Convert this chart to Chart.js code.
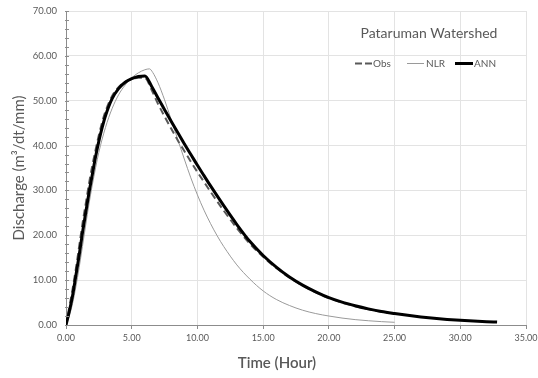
<!DOCTYPE html>
<html>
<head>
<meta charset="utf-8">
<script src="https://cdn.jsdelivr.net/npm/chart.js@4"></script>
<style>
  html, body { margin: 0; padding: 0; background: #fff; }
  #wrap { width: 538px; height: 378px; position: relative; }
</style>
</head>
<body>
<div id="wrap"><canvas id="chart" width="538" height="378"></canvas></div>
<script>
// values (time in hours, discharge in m3/dt/mm)
const obsTime = [0, 0.25, 0.5, 0.75, 1, 1.25, 1.5, 1.75, 2, 2.25, 2.5, 2.75, 3, 3.5, 4, 4.5, 5, 5.5, 6, 6.5, 7, 7.5, 8, 8.5, 9, 9.5, 10, 10.5, 11, 12, 13, 14, 15, 16, 17, 18, 19, 20, 21, 22, 23, 24, 25];
const obsQ = [0, 4, 8, 12.5, 17.5, 22.5, 27, 31.5, 35.5, 39, 42.3, 45.2, 47.6, 51, 53, 54.2, 54.8, 55.1, 55.1, 52.5, 49.3, 46.5, 43.8, 41.2, 38.8, 36.4, 34.1, 31.9, 29.7, 25.5, 21.6, 18.1, 15.2, 12.7, 10.6, 8.8, 7.3, 6.0, 5.0, 4.2, 3.5, 2.95, 2.5];

const nlrTime = [0, 0.25, 0.5, 0.75, 1, 1.25, 1.5, 1.75, 2, 2.5, 3, 3.5, 4, 4.5, 5, 5.5, 6, 6.35, 6.6, 7, 7.5, 8, 8.5, 9, 9.5, 10, 10.5, 11, 11.5, 12, 13, 14, 15, 16, 17, 18, 19, 20, 21, 22, 23, 24, 25];
const nlrQ = [0, 2, 4.8, 8.5, 12.8, 17.5, 22.3, 27, 31.2, 38.5, 44, 48.2, 51.3, 53.5, 55.1, 56.2, 56.9, 57.1, 56.3, 54, 50.2, 45.8, 41.4, 37, 32.8, 29, 25.6, 22.6, 19.9, 17.5, 13.4, 10.2, 7.6, 5.7, 4.35, 3.3, 2.55, 2.0, 1.55, 1.2, 0.95, 0.75, 0.6];

const annTime = [0, 0.25, 0.5, 0.75, 1, 1.25, 1.5, 1.75, 2, 2.25, 2.5, 2.75, 3, 3.5, 4, 4.5, 5, 5.5, 6, 6.5, 7, 7.5, 8, 8.5, 9, 9.5, 10, 10.5, 11, 12, 13, 14, 15, 16, 17, 18, 19, 20, 21, 22, 23, 24, 25, 26, 27, 28, 29, 30, 31, 32, 32.8];
const annQ = [0, 3, 6.5, 11, 15.5, 20.5, 25, 29.5, 33.5, 37.5, 41, 44, 46.6, 50.4, 52.7, 54.1, 54.9, 55.4, 55.5, 53.3, 50.6, 48, 45.4, 42.9, 40.4, 38, 35.6, 33.3, 31, 26.6, 22.4, 18.6, 15.5, 12.9, 10.7, 8.9, 7.4, 6.1, 5.1, 4.3, 3.6, 3.0, 2.55, 2.15, 1.8, 1.5, 1.25, 1.05, 0.9, 0.75, 0.65];

const xTicks = [0, 5, 10, 15, 20, 25, 30, 35];
const yTicks = [0, 10, 20, 30, 40, 50, 60, 70];

const chartTitle = "Pataruman Watershed";
const xTitle = "Time (Hour)";
const yTitle = "Discharge (m³/dt/mm)";

const textGrey = "#595959";
const axisGrey = "#8c8c8c";
const gridGrey = "#e3e3e3";

function toPoints(xs, ys) {
  return xs.map((x, i) => ({ x: x, y: ys[i] }));
}

// title, legend, axis titles and the small y ticks drawn on top
const overlay = {
  id: "overlay",
  afterDraw(chart) {
    const ctx = chart.ctx;
    const area = chart.chartArea;
    const ys = chart.scales.y;
    ctx.save();

    ctx.strokeStyle = axisGrey;
    ctx.lineWidth = 1;
    for (let v = 0; v <= 70; v += 2) {
      const py = Math.round(ys.getPixelForValue(v)) + 0.5;
      ctx.beginPath();
      ctx.moveTo(area.left - 1, py);
      ctx.lineTo(area.left + 3, py);
      ctx.stroke();
    }

    ctx.fillStyle = textGrey;
    ctx.textBaseline = "middle";
    ctx.textAlign = "center";
    ctx.font = "14px Lato";
    ctx.fillText(chartTitle, 429, 33);

    // legend
    const ly = 63.5;
    ctx.font = "10px Lato";
    ctx.textAlign = "left";
    ctx.strokeStyle = "#595959";
    ctx.lineWidth = 2;
    ctx.setLineDash([7, 3]);
    ctx.beginPath(); ctx.moveTo(355, ly); ctx.lineTo(372, ly); ctx.stroke();
    ctx.setLineDash([]);
    ctx.fillText("Obs", 373, ly);

    ctx.strokeStyle = "#9a9a9a";
    ctx.lineWidth = 1;
    ctx.beginPath(); ctx.moveTo(407, ly); ctx.lineTo(424, ly); ctx.stroke();
    ctx.fillText("NLR", 426, ly);

    ctx.strokeStyle = "#000";
    ctx.lineWidth = 3;
    ctx.beginPath(); ctx.moveTo(455, ly); ctx.lineTo(473, ly); ctx.stroke();
    ctx.fillText("ANN", 474, ly);

    // axis titles
    ctx.font = "600 15px Lato";
    ctx.textAlign = "center";
    ctx.fillText(xTitle, 277, 363);

    ctx.translate(19, 168);
    ctx.rotate(-Math.PI / 2);
    ctx.font = "15px Lato";
    ctx.fillText(yTitle, 0, 0);
    ctx.restore();
  }
};

const ctx = document.getElementById("chart").getContext("2d");

new Chart(ctx, {
  type: "line",
  data: {
    datasets: [
      {
        label: "ANN",
        data: toPoints(annTime, annQ),
        borderColor: "#000",
        borderWidth: 3,
        pointRadius: 0,
        cubicInterpolationMode: "monotone",
        order: 1
      },
      {
        label: "Obs",
        data: toPoints(obsTime, obsQ),
        borderColor: "#595959",
        borderWidth: 2,
        borderDash: [7, 4],
        pointRadius: 0,
        cubicInterpolationMode: "monotone",
        order: 2
      },
      {
        label: "NLR",
        data: toPoints(nlrTime, nlrQ),
        borderColor: "#9a9a9a",
        borderWidth: 1,
        pointRadius: 0,
        cubicInterpolationMode: "monotone",
        order: 3
      }
    ]
  },
  options: {
    responsive: false,
    animation: false,
    layout: { padding: { top: 11, right: 12, left: 0, bottom: 0 } },
    plugins: {
      legend: { display: false },
      tooltip: { enabled: false }
    },
    scales: {
      x: {
        type: "linear",
        min: 0,
        max: 35,
        afterBuildTicks: (s) => { s.ticks = xTicks.map(v => ({ value: v })); },
        afterFit: (s) => { s.height = 53; s.paddingLeft = 0; s.paddingRight = 0; },
        grid: { color: gridGrey, tickColor: axisGrey, tickLength: 4 },
        border: { color: axisGrey },
        ticks: {
          color: textGrey,
          font: { family: "Lato", size: 9 },
          padding: 4,
          maxRotation: 0,
          callback: (v) => Number(v).toFixed(2)
        }
      },
      y: {
        min: 0,
        max: 70,
        afterBuildTicks: (s) => { s.ticks = yTicks.map(v => ({ value: v })); },
        afterFit: (s) => { s.width = 66; s.paddingTop = 0; s.paddingBottom = 0; },
        grid: { color: gridGrey, drawTicks: false },
        border: { color: axisGrey },
        ticks: {
          color: textGrey,
          font: { family: "Lato", size: 9.5 },
          padding: 9,
          callback: (v) => Number(v).toFixed(2)
        }
      }
    }
  },
  plugins: [overlay]
});
</script>
</body>
</html>
